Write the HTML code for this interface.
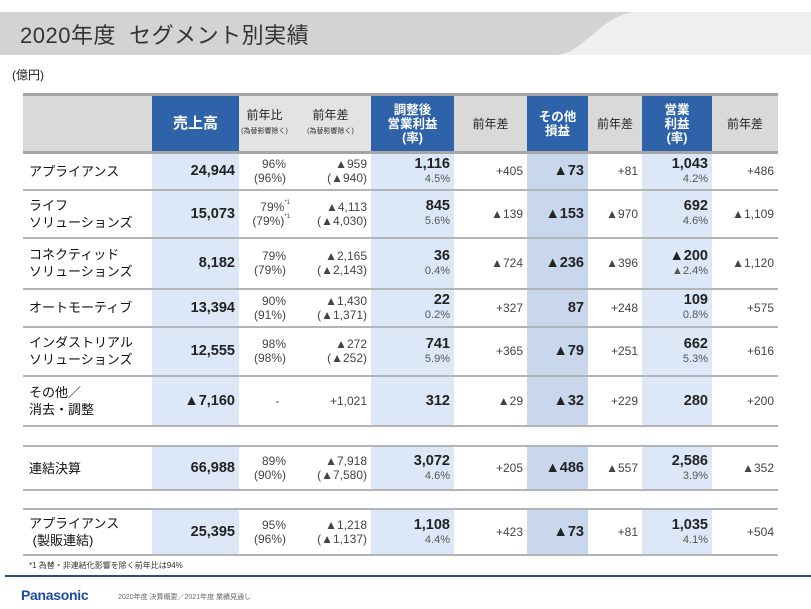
<!DOCTYPE html>
<html><head><meta charset="utf-8"><style>
body{margin:0;width:811px;height:609px;background:#fff;font-family:"Liberation Sans","Noto Sans CJK JP",sans-serif;color:#222;position:relative;overflow:hidden}
.abs{position:absolute}
table{position:absolute;left:23px;border-collapse:collapse;table-layout:fixed;width:755px}
td{padding:0 4px 0 0;text-align:right;vertical-align:middle;font-size:12px;line-height:14px;border-bottom:2px solid #b4b4b4;white-space:nowrap}
td.l{text-align:left;padding-left:6px;font-size:13px;line-height:17px;color:#111}
.b{background:#dce8f7}
.d{background:#c9d7ec}
.v{font-weight:bold;font-size:14.5px;color:#222}
.s{font-size:11px;color:#555}
.g{color:#444}
tr.h td{background:#d9d9d9;text-align:center;padding:0;font-size:12px;line-height:14px;border-top:3px solid #a6a6a6;border-bottom:3px solid #a6a6a6}
tr.h td.bh{background:#2f63a9;color:#fff;font-weight:bold;font-size:12.5px}
tr.h td.w{background:#e3e3e3}
.tiny{font-size:7px;color:#333}
.sp{font-size:6px;vertical-align:top;line-height:6px}
</style></head><body>
<svg class="abs" style="left:0;top:0" width="811" height="60">
<rect x="0" y="12" width="811" height="43" fill="#efefef"/>
<path d="M0 12 H640 C600 12 585 55 555 55 H0 Z" fill="#d3d3d3"/>
</svg>
<div class="abs" style="left:20px;top:18px;font-size:22px;color:#333;letter-spacing:0.5px">2020年度&nbsp;&nbsp;セグメント別実績</div>
<div class="abs" style="left:12px;top:66px;font-size:12px;color:#222">(億円)</div>

<table style="top:93px">
<colgroup><col style="width:129px"><col style="width:87px"><col style="width:51px"><col style="width:81px"><col style="width:83px"><col style="width:73px"><col style="width:61px"><col style="width:54px"><col style="width:70px"><col style="width:66px"></colgroup>
<tr class="h" style="height:58px"><td></td><td class="bh" style="font-size:15px">売上高</td><td class="w">前年比<br><span class="tiny">(為替影響除く)</span></td><td class="w">前年差<br><span class="tiny">(為替影響除く)</span></td><td class="bh">調整後<br>営業利益<br>(率)</td><td>前年差</td><td class="bh">その他<br>損益</td><td>前年差</td><td class="bh">営業<br>利益<br>(率)</td><td>前年差</td></tr>
<tr style="height:37px"><td class="l">アプライアンス</td><td class="b v">24,944</td><td class="g">96%<br>(96%)</td><td class="g">▲959<br>(▲940)</td><td class="b"><span class="v">1,116</span><br><span class="s">4.5%</span></td><td class="g">+405</td><td class="d v">▲73</td><td class="g">+81</td><td class="b"><span class="v">1,043</span><br><span class="s">4.2%</span></td><td class="g">+486</td></tr>
<tr style="height:48px"><td class="l">ライフ<br>ソリューションズ</td><td class="b v">15,073</td><td class="g" style="padding-right:0">79%<span class="sp">*1</span><br>(79%)<span class="sp">*1</span></td><td class="g">▲4,113<br>(▲4,030)</td><td class="b"><span class="v">845</span><br><span class="s">5.6%</span></td><td class="g">▲139</td><td class="d v">▲153</td><td class="g">▲970</td><td class="b"><span class="v">692</span><br><span class="s">4.6%</span></td><td class="g">▲1,109</td></tr>
<tr style="height:51px"><td class="l">コネクティッド<br>ソリューションズ</td><td class="b v">8,182</td><td class="g">79%<br>(79%)</td><td class="g">▲2,165<br>(▲2,143)</td><td class="b"><span class="v">36</span><br><span class="s">0.4%</span></td><td class="g">▲724</td><td class="d v">▲236</td><td class="g">▲396</td><td class="b"><span class="v">▲200</span><br><span class="s">▲2.4%</span></td><td class="g">▲1,120</td></tr>
<tr style="height:38px"><td class="l">オートモーティブ</td><td class="b v">13,394</td><td class="g">90%<br>(91%)</td><td class="g">▲1,430<br>(▲1,371)</td><td class="b"><span class="v">22</span><br><span class="s">0.2%</span></td><td class="g">+327</td><td class="d v">87</td><td class="g">+248</td><td class="b"><span class="v">109</span><br><span class="s">0.8%</span></td><td class="g">+575</td></tr>
<tr style="height:49px"><td class="l">インダストリアル<br>ソリューションズ</td><td class="b v">12,555</td><td class="g">98%<br>(98%)</td><td class="g">▲272<br>(▲252)</td><td class="b"><span class="v">741</span><br><span class="s">5.9%</span></td><td class="g">+365</td><td class="d v">▲79</td><td class="g">+251</td><td class="b"><span class="v">662</span><br><span class="s">5.3%</span></td><td class="g">+616</td></tr>
<tr style="height:50px"><td class="l">その他／<br>消去・調整</td><td class="b v">▲7,160</td><td class="g">-&nbsp;&nbsp;</td><td class="g">+1,021</td><td class="b v">312</td><td class="g">▲29</td><td class="d v">▲32</td><td class="g">+229</td><td class="b v">280</td><td class="g">+200</td></tr>
</table>

<table style="top:445px">
<colgroup><col style="width:129px"><col style="width:87px"><col style="width:51px"><col style="width:81px"><col style="width:83px"><col style="width:73px"><col style="width:61px"><col style="width:54px"><col style="width:70px"><col style="width:66px"></colgroup>
<tr style="height:44px"><td class="l" style="border-top:2px solid #b4b4b4">連結決算</td><td class="b v" style="border-top:2px solid #b4b4b4">66,988</td><td class="g" style="border-top:2px solid #b4b4b4">89%<br>(90%)</td><td class="g" style="border-top:2px solid #b4b4b4">▲7,918<br>(▲7,580)</td><td class="b" style="border-top:2px solid #b4b4b4"><span class="v">3,072</span><br><span class="s">4.6%</span></td><td class="g" style="border-top:2px solid #b4b4b4">+205</td><td class="d v" style="border-top:2px solid #b4b4b4">▲486</td><td class="g" style="border-top:2px solid #b4b4b4">▲557</td><td class="b" style="border-top:2px solid #b4b4b4"><span class="v">2,586</span><br><span class="s">3.9%</span></td><td class="g" style="border-top:2px solid #b4b4b4">▲352</td></tr>
</table>

<table style="top:508px">
<colgroup><col style="width:129px"><col style="width:87px"><col style="width:51px"><col style="width:81px"><col style="width:83px"><col style="width:73px"><col style="width:61px"><col style="width:54px"><col style="width:70px"><col style="width:66px"></colgroup>
<tr style="height:46px"><td class="l" style="border-top:2px solid #b4b4b4">アプライアンス<br>&nbsp;(製販連結)</td><td class="b v" style="border-top:2px solid #b4b4b4">25,395</td><td class="g" style="border-top:2px solid #b4b4b4">95%<br>(96%)</td><td class="g" style="border-top:2px solid #b4b4b4">▲1,218<br>(▲1,137)</td><td class="b" style="border-top:2px solid #b4b4b4"><span class="v">1,108</span><br><span class="s">4.4%</span></td><td class="g" style="border-top:2px solid #b4b4b4">+423</td><td class="d v" style="border-top:2px solid #b4b4b4">▲73</td><td class="g" style="border-top:2px solid #b4b4b4">+81</td><td class="b" style="border-top:2px solid #b4b4b4"><span class="v">1,035</span><br><span class="s">4.1%</span></td><td class="g" style="border-top:2px solid #b4b4b4">+504</td></tr>
</table>

<div class="abs" style="left:29px;top:560px;font-size:8px;color:#333">*1 為替・非連結化影響を除く前年比は94%</div>
<div class="abs" style="left:5px;top:575px;width:806px;height:2px;background:#1f4e8c"></div>
<div class="abs" style="left:21px;top:587px;font-size:14px;font-weight:bold;color:#1a4d9c;letter-spacing:-0.3px">Panasonic</div>
<div class="abs" style="left:118px;top:592px;font-size:7px;color:#666">2020年度 決算概要／2021年度 業績見通し</div>
</body></html>
